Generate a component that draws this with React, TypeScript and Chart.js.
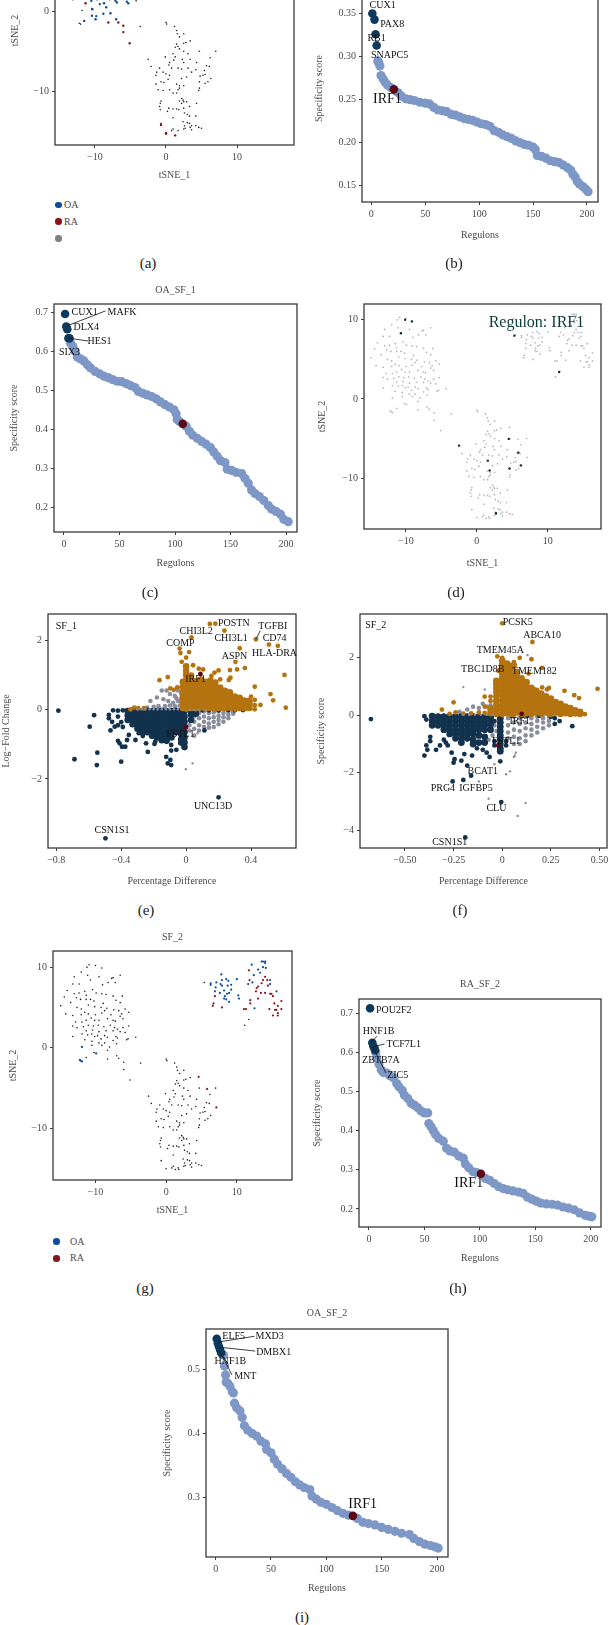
import React, { useEffect, useRef } from "react";
import { Chart, registerables } from "chart.js";

Chart.register(...registerables);

const SERIF = '"Liberation Serif", serif';
const BLUE = "#7d97c6";
const NAVY = "#0d3a5c";
const MAROON = "#5a0a16";
const GOLD = "#b5730f";
const DKNAVY = "#12324e";
const VGREY = "#8a8e9c";
const OA = "#0f4c9c";
const RA = "#8c1219";

// ---------- tSNE cells ----------
const tsneLeft: number[][] = [[-10.9,10.3],[-10,10.2],[-11.2,10],[-9.1,9.9],[-12,9.4],[-11.1,9],[-13,8.8],[-9.5,8.8],[-7.5,8.7],[-6.5,9],[-7.7,8.6],[-10.7,8.4],[-13.2,7.9],[-12.3,7.9],[-9,7.8],[-8.2,8.1],[-7.2,8.1],[-14,7.1],[-13,6.7],[-12.3,6.8],[-11.5,7],[-10.4,7.2],[-11.3,6.5],[-9.9,6.8],[-9.1,6.7],[-8.5,6.6],[-7.5,6.4],[-6.2,6.4],[-14.4,6.3],[-12.7,6.2],[-12.1,6],[-11.3,6],[-10.7,6],[-10.2,5.8],[-8.9,5.5],[-7.1,5.9],[-6.5,5.6],[-13.5,5.6],[-14.9,5.2],[-12.6,5],[-12,4.8],[-11,5.3],[-10.1,5.1],[-9.2,5],[-8.4,4.9],[-5.8,4.8],[-7.4,4.7],[-6.7,4.6],[-8.7,4.6],[-9.1,4.3],[-11.5,4.4],[-11,4.2],[-12,4.1],[-14.2,4.2],[-13.2,4],[-10,4.1],[-5.3,4.4],[-6.3,4.2],[-6.5,3.9],[-7.8,4.1],[-8.3,3.6],[-7.5,3.4],[-7.2,3.3],[-6.1,3.6],[-10.6,3.7],[-11.3,3.4],[-10.1,3.4],[-9.5,3.4],[-11.9,3.2],[-12.8,3.2],[-13.2,2.7],[-12.6,2.5],[-11.7,2.6],[-11,2.8],[-10.3,2.7],[-9.6,2.8],[-8.8,2.6],[-7.9,2.8],[-7.3,2.5],[-6.9,2.3],[-6.1,2.5],[-5.3,2.7],[-11.3,2.1],[-10.4,2.2],[-9.5,2],[-8.5,2.1],[-7.5,2.1],[-6.5,2],[-5.8,1.9],[-11.9,1.7],[-11.1,1.6],[-10.5,1.7],[-9.7,1.5],[-8.7,1.5],[-7.1,1.4],[-13.2,1.4],[-11.5,1],[-10.1,1.4],[-9.2,1.1],[-8.3,1.3],[-6.9,1.2],[-5.4,1.1],[-4.3,1.3],[-10.5,0.8],[-9.5,0.6],[-8.7,0.6],[-7.5,0.9],[-7,0.5],[-5.6,1],[-10.5,0.3],[-9.1,0.3],[-8,0.1],[-8.3,-0.3],[-10.2,-0.6],[-8.3,-1.4],[-7,-1],[-6.7,-1.3],[-6,-1.8],[-6,-2.7],[-5.1,-4],[-3.6,-1.9],[-11.3,-1.2]];
const tsneBottom: number[][] = [[0,-1.4],[0.1,-1.6],[1.2,-1.9],[1.5,-2.4],[1.6,-2.8],[1.9,-3.2],[2.5,-2.8],[2.8,-3.9],[3.4,-3.7],[1.5,-4.1],[1.3,-4.5],[1.7,-4.4],[1.9,-4.7],[2.5,-4],[2.5,-5],[-0.1,-5.7],[1,-5.3],[3.1,-5.3],[4.7,-5],[7,-5],[6.2,-5.8],[-2.5,-6],[0.5,-6.4],[0.4,-6.7],[1.1,-6.1],[1.3,-5.7],[2.3,-6],[3.4,-6],[2.5,-6.4],[4.3,-6.4],[5.7,-6.8],[6.1,-6.9],[-2.1,-6.9],[-0.9,-7.1],[-1.3,-7.6],[-0.4,-7.6],[0,-7.8],[-1.4,-8],[0.5,-8],[0.8,-7.1],[1.7,-7.1],[2.2,-7.2],[3.1,-7.1],[3.6,-7.6],[4.2,-7.3],[5.4,-7.4],[2.9,-8.2],[2.2,-8.4],[4.8,-8.1],[5.2,-8],[5.5,-7.9],[5.9,-8.8],[6.3,-8.4],[-0.7,-8.8],[-1.4,-9.1],[-0.3,-8.9],[0.3,-8.5],[1.5,-9.1],[2.5,-9.3],[1.9,-9.3],[4.7,-8.8],[4.7,-9.6],[5.5,-9],[-1.1,-9.8],[-0.4,-9.9],[0.5,-9.8],[1,-10.2],[1.5,-10.2],[1.9,-9.6],[1.7,-9.8],[4.6,-9.9],[2.2,-10.9],[1.9,-11.2],[2.4,-11.1],[2.2,-11.5],[2.5,-11.3],[2.9,-11.3],[3.3,-11.9],[4.3,-11.5],[-0.7,-11.2],[-0.8,-11.5],[-0.9,-11.9],[-0.8,-12.3],[0.4,-12.1],[0.2,-12.5],[1,-12.2],[1.5,-12.2],[1.8,-12.3],[2.5,-12.1],[2.6,-12.7],[3,-12.9],[3.3,-13.1],[4.2,-13.1],[-0.7,-14],[1,-13.3],[2.4,-13.8],[3,-13.9],[3.3,-14],[2.6,-14.3],[3.6,-14.3],[4.2,-14.3],[4.6,-14.5],[5,-14.6],[0,-15],[0.8,-14.9],[1,-14.7],[1.3,-15.1],[1.7,-14.9],[1.8,-15.1],[2.5,-14.7],[2.7,-14.6],[3.4,-14.5],[3.6,-14.8]];
const tsneRightOA: number[][] = [[6.3,8],[6.3,7.8],[7.1,8.1],[7.8,9.1],[7.9,8.4],[8.5,8.5],[8.8,8.3],[7.7,7.9],[7.9,7.7],[8.7,7.7],[9.2,7.8],[10,8.5],[7,7.5],[6.9,7],[7.6,6.8],[8.2,7.1],[9.2,7.2],[8.6,6.7],[8.9,6.8],[8.3,6.4],[8.2,6.1],[8.5,6],[8.9,5.7],[10.2,6.5],[10.3,6.1],[13.5,10.7],[13.7,10.7],[14,10.7],[14,10.5],[12.1,10.3],[13.7,10],[14.1,9.9],[13,9.7],[12.4,9],[11.6,7.9],[12.2,8.1],[13.3,9.3],[14.7,7.9],[15.6,7],[12.5,4.9],[14.7,8.4]];
const tsneRightRA: number[][] = [[6.9,6.4],[6.7,5.5],[6.6,5.2],[7.9,5],[11.7,9.6],[14,8.8],[13.7,8.4],[14.3,8.4],[11.8,8.4],[13.5,8],[13,7.6],[12.8,7.4],[14.4,7.7],[12.7,7],[13.4,6.8],[14,6.8],[14.7,6.7],[14.9,6.7],[15.1,6.4],[13,6.1],[11.9,5.9],[11.9,5.5],[11,4.8],[11.3,4.8],[16.3,5.8],[15.3,5.5],[15.8,5.2],[16.3,4.8],[15.4,4.7],[15.6,4.7],[14.6,4.8],[15.1,4],[15.8,4],[15.8,4.3]];
const tsneRightOther: number[][] = [[5.4,8.1],[11.7,3.5],[11.1,2.8]];
const gLeftOA: number[][] = [[-11.9,0.1],[-12.2,-1.5],[-11.9,-1.7],[-12.1,-1.6],[-9.9,-0.7]];
const gBottomRA: number[][] = [[4.6,-3.6],[5.8,-5.1],[7.1,-7.4]];
const aOA: number[][] = [[-13.1,1.5],[-10.5,1.3],[-9.7,1.5],[-8.7,1],[-9.3,0.9],[-7.9,1.5],[-7.1,1.3],[-6.9,1.1],[-5.5,1.2],[-5.3,1],[-10.4,0.3],[-10.35,0.25],[-8.4,0.5],[-8.8,-0.3],[-7.8,-0.25],[-10.4,-0.55],[-9.9,-1],[-9.8,-0.6],[-11.5,-1.2],[-7,-1]];
const aRA: number[][] = [[-11.3,1],[-8.1,-1.4],[-6.7,-1.4],[-6,-1.8],[-6,-2.6],[-5.1,-4],[-0.7,-14.2],[0,-15.2],[0.02,-15.3],[1.3,-15.5]];
const aOther: number[][] = [[-4.2,1.3],[-11.8,0.1],[-12.2,-1.5],[-12,-1.6],[-3.6,-1.9]];
const dHighlighted: number[][] = [[-10.1,10],[-9.15,9.8],[-10.7,8.3],[5.3,8],[11.6,3.4],[-2.5,-5.9],[4.5,-5.05],[5.85,-6.8],[1.55,-7.8],[1.8,-9.05],[4.6,-8.8],[6.2,-8.4],[2.7,-14.45]];

const tsneXTicks = [-10, 0, 10];
const tsneXLabels = ["−10", "0", "10"];
const tsneYTicks = [-10, 0, 10];
const tsneYLabels = ["−10", "0", "10"];

// ---------- regulon specificity ----------
const bTopRanks = [1, 3, 4, 5];
const bTopScores = [0.35, 0.343, 0.326, 0.313];
const bRanks = [6,7,8,9,11,13,15,18,25,28,32,36,40,45,50,54,58,62,66,70,74,78,82,86,90,94,98,102,106,110,114,118,122,126,130,134,138,142,146,150,152,154,158,162,166,170,174,178,182,185,187,189,191,193,196,199,201];
const bScores = [0.295,0.293,0.289,0.278,0.274,0.27,0.267,0.264,0.258,0.254,0.251,0.25,0.249,0.247,0.246,0.245,0.241,0.238,0.237,0.236,0.233,0.232,0.23,0.228,0.227,0.226,0.224,0.222,0.221,0.219,0.214,0.212,0.209,0.207,0.205,0.202,0.2,0.198,0.197,0.195,0.192,0.185,0.184,0.182,0.179,0.178,0.177,0.174,0.171,0.168,0.163,0.16,0.155,0.152,0.149,0.146,0.143];
const bIrf = [21, 0.262];

const cTopRanks = [1, 2, 3, 4, 5];
const cTopScores = [0.695, 0.663, 0.656, 0.633, 0.633];
const cRanks = [6,8,10,12,15,18,21,24,28,32,36,40,44,48,52,56,60,64,67,71,75,79,83,87,91,95,99,101,102,104,110,113,116,120,124,128,132,135,138,141,145,147,151,155,160,163,166,169,172,176,180,184,187,191,195,198,202];
const cScores = [0.62,0.612,0.6,0.585,0.58,0.575,0.565,0.557,0.548,0.542,0.536,0.532,0.527,0.523,0.522,0.517,0.512,0.507,0.497,0.492,0.488,0.484,0.478,0.47,0.463,0.457,0.45,0.44,0.425,0.42,0.408,0.395,0.385,0.377,0.369,0.362,0.353,0.342,0.331,0.32,0.315,0.298,0.295,0.29,0.287,0.275,0.262,0.245,0.236,0.228,0.218,0.205,0.196,0.19,0.183,0.17,0.164];
const cIrf = [107, 0.414];

const hTopRanks = [1, 3, 4, 5, 5.5];
const hTopScores = [0.712, 0.624, 0.615, 0.61, 0.605];
const hRanks = [6,7,9,11,13,16,19,22,25,27,30,32,35,38,41,44,47,50,53,54,56,58,60,63,67,70,73,77,81,85,87,90,94,97,105,109,113,117,121,125,130,135,139,143,147,151,155,160,165,170,175,180,185,190,195,198,201];
const hScores = [0.6,0.585,0.57,0.555,0.548,0.547,0.54,0.535,0.52,0.512,0.503,0.49,0.482,0.47,0.465,0.458,0.45,0.445,0.445,0.418,0.41,0.4,0.39,0.38,0.373,0.355,0.348,0.345,0.335,0.33,0.315,0.305,0.295,0.293,0.278,0.273,0.265,0.257,0.252,0.249,0.246,0.243,0.24,0.23,0.225,0.22,0.215,0.213,0.212,0.21,0.205,0.202,0.198,0.19,0.184,0.182,0.18];
const hIrf = [101, 0.29];

const iTopRanks = [1, 2, 3, 4, 5];
const iTopScores = [0.547, 0.54, 0.535, 0.53, 0.525];
const iRanks = [7,8,9,9.5,11,13,15,16,17,19,22,24,26,29,33,37,41,45,46,50,53,56,60,64,68,72,76,80,85,87,91,95,100,105,110,115,120,128,133,138,144,150,156,162,168,175,179,184,189,194,198,201];
const iScores = [0.522,0.505,0.491,0.48,0.478,0.473,0.465,0.463,0.447,0.44,0.435,0.425,0.412,0.405,0.4,0.396,0.388,0.384,0.375,0.37,0.36,0.352,0.345,0.338,0.332,0.325,0.32,0.316,0.313,0.303,0.298,0.293,0.29,0.285,0.28,0.276,0.273,0.268,0.262,0.26,0.258,0.254,0.251,0.248,0.245,0.243,0.237,0.232,0.228,0.226,0.224,0.222];
const iIrf = [124, 0.272];

const regXTicks = [0, 50, 100, 150, 200];
const regXLabels = ["0", "50", "100", "150", "200"];

// ---------- volcano panels: [percentage difference, [log-fold values...]] ----------
const eGoldColumns: [number, number[]][] = [[-0.02,[0.05,0.2,0.35,0.5,0.65,0.8]],[0,[0.03,0.17,0.3,0.45,0.58,0.72,0.85,1,1.12,1.25]],[0.03,[0.05,0.18,0.32,0.46,0.6,0.74,0.88,0.98]],[0.06,[0.04,0.16,0.3,0.44,0.57,0.7,0.82]],[0.09,[0.06,0.2,0.33,0.47,0.6,0.74,0.87]],[0.12,[0.03,0.17,0.31,0.44,0.58,0.7,0.8]],[0.15,[0.05,0.19,0.33,0.46,0.6,0.72,0.84]],[0.18,[0.03,0.16,0.3,0.43,0.56,0.66,0.78]],[0.21,[0.05,0.18,0.31,0.44,0.56,0.64]],[0.24,[0.04,0.17,0.3,0.42,0.54]],[0.27,[0.06,0.18,0.3,0.4,0.5]],[0.3,[0.03,0.15,0.27,0.38]],[0.33,[0.05,0.16,0.27,0.34]],[0.36,[0.04,0.14,0.26]],[0.39,[0.05,0.16,0.24]]];
const eGoldOutliers: number[][] = [[0.146,2.47],[0.18,2.48],[0.236,2.28],[0.43,2.03],[0.51,1.875],[0.565,1.84],[0.033,2.08],[0.33,1.77],[-0.04,1.76],[0.018,1.66],[-0.035,1.63],[0,1.5],[-0.027,1.38],[0.304,1.38],[0.043,1.28],[0.362,1.2],[0.314,1.16],[0.27,1.14],[0.2,1.13],[0.175,1.07],[0.078,1.18],[0.105,1.16],[0.156,0.97],[0.21,0.875],[0.273,0.92],[0.263,0.855],[0.606,1],[0.423,0.66],[0.52,0.45],[0.536,0.27],[0.614,0.058],[0.458,0.135],[0.423,0.28],[0.423,0.13],[0.423,0.01],[0.4,0.375],[0.386,0.28],[-0.164,0.85],[-0.113,0.94],[-0.097,0.615],[-0.076,0.57],[-0.32,0.06],[-0.26,0.04],[-0.343,0.01],[-0.296,0.04],[-0.055,0.64]];
const eNavyColumns: [number, number[]][] = [[-0.36,[-0.04,-0.17,-0.3]],[-0.33,[-0.03,-0.15,-0.28,-0.42]],[-0.3,[-0.05,-0.18,-0.31,-0.44,-0.55]],[-0.27,[-0.04,-0.16,-0.29,-0.42,-0.55,-0.66]],[-0.24,[-0.03,-0.15,-0.28,-0.4,-0.53,-0.65]],[-0.21,[-0.05,-0.18,-0.3,-0.43,-0.55,-0.68,-0.75]],[-0.18,[-0.04,-0.16,-0.29,-0.42,-0.54,-0.67,-0.8]],[-0.15,[-0.03,-0.15,-0.28,-0.4,-0.53,-0.66,-0.78,-0.88]],[-0.12,[-0.05,-0.18,-0.3,-0.43,-0.56,-0.68,-0.8,-0.9]],[-0.09,[-0.04,-0.16,-0.29,-0.41,-0.54,-0.67,-0.8]],[-0.06,[-0.03,-0.15,-0.28,-0.4,-0.52,-0.65]],[-0.03,[-0.04,-0.16,-0.28,-0.4,-0.52,-0.7,-0.85,-0.95]],[-0.01,[-0.05,-0.2,-0.35,-0.5,-0.65,-0.8,-0.95,-1.08]],[0.03,[-0.03,-0.15,-0.3]],[0.06,[-0.03,-0.12]]];
const eNavyOutliers: number[][] = [[0.1,-0.02],[0.14,-0.02],[0.2,-0.02],[0.26,-0.01],[0.3,-0.02],[0.35,-0.01],[-0.39,-0.02],[-0.42,-0.03],[-0.42,-0.2],[-0.45,-0.02],[-0.787,-0.03],[-0.688,-1.43],[-0.547,-1.24],[-0.55,-1.6],[-0.594,-0.49],[-0.567,-0.16],[-0.4,-1.5],[-0.497,-3.71],[0.2,-2.53],[-0.236,-1.22],[-0.123,-1.36],[-0.092,-1.18],[-0.06,-1.16],[-0.113,-1.55],[-0.097,-1.45],[-0.092,-1.6],[0.113,-0.6],[-0.42,-0.9],[-0.41,-0.97],[-0.395,-1.07],[-0.375,-1.07],[-0.353,-0.73],[-0.466,-0.6],[-0.44,-0.49],[-0.476,-0.15],[-0.476,-0.25],[-0.456,-0.35],[-0.312,-0.875],[-0.364,-0.875],[-0.292,-0.68],[-0.267,-0.76],[-0.247,-0.97],[-0.19,-0.92],[-0.195,-0.99],[-0.092,-1.02],[-0.02,-1],[-0.24,-0.57],[-0.42,-0.45],[-0.39,-0.5],[-0.4,-0.36]];
const eGreyWedge: number[][] = [[-0.22,0.25],[-0.18,0.35],[-0.15,0.55],[-0.12,0.55],[-0.1,0.45],[-0.07,0.4],[-0.05,0.55],[-0.03,0.65],[-0.14,0.3],[-0.11,0.25],[-0.08,0.2],[-0.05,0.25],[-0.03,0.3],[-0.04,0.12],[-0.07,0.1],[-0.1,0.12],[-0.13,0.1],[-0.17,0.1],[-0.2,0.08],[-0.24,0.06],[-0.03,0.45],[-0.06,0.33],[0.02,-0.45],[0.02,-0.6],[0.05,-0.05],[0.05,-0.2],[0.05,-0.35],[0.05,-0.55],[0.05,-0.75],[0.08,-0.1],[0.08,-0.25],[0.08,-0.45],[0.08,-0.6],[0.11,-0.05],[0.11,-0.2],[0.11,-0.35],[0.11,-0.5],[0.14,-0.1],[0.14,-0.25],[0.14,-0.4],[0.14,-0.52],[0.17,-0.08],[0.17,-0.22],[0.17,-0.35],[0.17,-0.5],[0.2,-0.05],[0.2,-0.18],[0.2,-0.3],[0.2,-0.42],[0.23,-0.1],[0.23,-0.22],[0.23,-0.35],[0.26,-0.06],[0.26,-0.15],[0.26,-0.25],[0.29,-0.05],[0.29,-0.12]];
const eGreySmall: number[][] = [[-0.002,-1.72],[0.04,-1.55],[0.07,-0.68],[-0.3,0.01],[-0.275,0.01],[-0.25,0.01],[-0.225,0.01],[-0.2,0.01],[-0.175,0.01],[-0.15,0.01],[-0.125,0.01],[-0.1,0.01],[-0.075,0.01],[-0.05,0.01],[0.02,-0.01],[0.05,-0.01],[0.08,-0.01],[0.12,-0.01]];
const eIrfX = [0.088, 0];
const eIrfY = [1.03, -0.5];

const fGoldColumns: [number, number[]][] = [[-0.03,[0.05,0.2,0.35,0.5,0.65,0.8,0.95,1.1,1.2]],[0,[0.05,0.2,0.35,0.52,0.7,0.85,1,1.15,1.3,1.45,1.6,1.75,1.9]],[0.025,[0.08,0.25,0.4,0.58,0.75,0.9,1.05,1.2,1.35,1.5,1.65,1.8]],[0.05,[0.04,0.2,0.36,0.52,0.68,0.85,1,1.15,1.3,1.45,1.6,1.72]],[0.075,[0.1,0.26,0.42,0.58,0.74,0.9,1.05,1.2,1.35,1.5]],[0.1,[0.05,0.2,0.36,0.52,0.68,0.82,0.98,1.12,1.28]],[0.125,[0.08,0.24,0.4,0.56,0.72,0.88,1,1.15]],[0.15,[0.05,0.2,0.35,0.5,0.65,0.8,0.95]],[0.175,[0.1,0.25,0.4,0.55,0.7,0.85]],[0.2,[0.06,0.2,0.35,0.5,0.62,0.75]],[0.225,[0.1,0.25,0.4,0.52,0.66]],[0.25,[0.05,0.18,0.32,0.45,0.58]],[0.275,[0.1,0.22,0.35,0.46]],[0.3,[0.05,0.17,0.28,0.4]],[0.325,[0.08,0.2,0.3]],[0.35,[0.05,0.15,0.25]],[0.375,[0.07,0.17]],[0.4,[0.05,0.12]],[-0.06,[0.08,0.22]]];
const fGoldOutliers: number[][] = [[0.425,0.04],[-0.06,0.5],[-0.06,0.65],[-0.09,0.08],[-0.09,0.3],[-0.09,0.65],[-0.12,0.1],[-0.16,0.07],[-0.2,0.06],[-0.24,0.1],[-0.27,0.05],[0,3.2],[0.155,2.55],[-0.025,2.05],[0,2],[0.09,2],[0.15,1.95],[0.205,1.65],[0.06,1.85],[0.065,1.75],[0.135,1.45],[0.035,1.55],[-0.02,1.55],[0.32,0.85],[0.49,0.92],[0.37,0.7],[0.395,0.6],[0.24,0.95],[0.205,0.97],[0.165,0.9],[-0.25,0.45],[-0.31,0.2],[0.23,0.9]];
const fNavyColumns: [number, number[]][] = [[-0.36,[-0.03,-0.2,-0.35]],[-0.33,[-0.05,-0.2,-0.35]],[-0.3,[-0.05,-0.2,-0.35,-0.5]],[-0.27,[-0.05,-0.2,-0.35,-0.5,-0.65]],[-0.24,[-0.05,-0.2,-0.35,-0.5,-0.65,-0.8]],[-0.21,[-0.05,-0.2,-0.35,-0.5,-0.65,-0.8,-0.95]],[-0.18,[-0.05,-0.2,-0.35,-0.5,-0.65,-0.8]],[-0.15,[-0.05,-0.2,-0.35,-0.5,-0.65,-0.85,-1]],[-0.12,[-0.05,-0.2,-0.35,-0.5,-0.7,-0.95]],[-0.09,[-0.05,-0.2,-0.35,-0.5,-0.75,-0.95]],[-0.06,[-0.05,-0.15,-0.3,-0.5]],[-0.01,[-0.1,-0.25,-0.4,-0.55,-0.7,-0.85,-1,-1.15,-1.25]]];
const fNavyOutliers: number[][] = [[-0.4,-0.03],[-0.39,-0.15],[-0.04,-0.2],[-0.04,-0.9],[-0.04,-1.05],[0.02,-0.9],[0.02,-1.05],[0.05,-0.02],[0.1,-0.03],[0.13,-0.02],[0.19,-0.02],[0.25,-0.05],[0.27,-0.1],[-0.675,-0.13],[-0.19,-4.25],[-0.005,-3.02],[-0.2,-2.25],[-0.255,-2.3],[-0.16,-2.1],[-0.18,-1.75],[-0.25,-1.65],[-0.21,-1.58],[-0.01,-1.6],[-0.245,-1.53],[-0.26,-1.3],[-0.195,-1.35],[-0.155,-1.4],[-0.065,-1.45],[-0.4,-1.4],[-0.39,-1.05],[-0.385,-1.2],[-0.37,-0.9],[-0.37,-0.75],[-0.34,-1.2],[-0.32,-1.05],[0.36,-0.38],[0.295,-0.2],[0.27,-0.3],[-0.3,-0.85],[-0.29,-0.95],[-0.28,-1.05],[-0.1,-1.2],[-0.13,-1.15],[-0.08,-1.3]];
const fGreyWedge: number[][] = [[0.03,-0.1],[0.03,-0.35],[0.03,-0.6],[0.03,-0.8],[0.06,-0.05],[0.06,-0.25],[0.06,-0.5],[0.06,-0.75],[0.06,-1],[0.09,-0.1],[0.09,-0.3],[0.09,-0.55],[0.09,-0.8],[0.09,-1],[0.12,-0.05],[0.12,-0.25],[0.12,-0.45],[0.12,-0.7],[0.12,-0.9],[0.15,-0.1],[0.15,-0.3],[0.15,-0.5],[0.15,-0.7],[0.18,-0.05],[0.18,-0.2],[0.18,-0.4],[0.18,-0.6],[0.21,-0.1],[0.21,-0.25],[0.21,-0.45],[0.24,-0.05],[0.24,-0.2],[0.24,-0.35],[-0.04,-0.35],[-0.03,-0.55],[-0.05,-0.7],[-0.07,-0.85],[-0.15,0.3],[-0.12,0.25],[-0.1,0.4],[-0.08,0.3],[-0.06,0.35],[-0.05,0.2],[-0.03,0.15],[-0.18,0.2],[-0.22,0.12]];
const fGreySmall: number[][] = [[-0.2,0.98],[-0.09,0.9],[-0.07,-2.9],[0.12,-3.05],[0.08,-3.5],[0.13,2.1],[-0.12,-2.3],[0.02,-2.05],[0.04,-1.95],[-0.04,-1.7],[0.065,-1.4],[0.07,-1.3],[0.06,-1.45],[-0.2,0.02],[-0.17,0.02],[-0.14,0.02],[-0.11,0.02],[-0.08,0.02],[-0.05,0.02]];
const fIrfX = [0.1, -0.02];
const fIrfY = [0.05, -1.05];

const cols = (c: [number, number[]][]) => c.flatMap(([x, ys]) => ys.map((y) => ({ x, y })));
const pts = (a: number[][]) => a.map(([x, y]) => ({ x, y }));
const ranked = (r: number[], s: number[]) => r.map((x, i) => ({ x, y: s[i] }));
const dot = (data: any[], color: string, r: number) => ({ data, backgroundColor: color, borderWidth: 0, pointRadius: r, pointHoverRadius: r, showLine: false });

const specSets = (tr: number[], ts: number[], r: number[], s: number[], irf: number[]) => [
  dot([{ x: irf[0], y: irf[1] }], MAROON, 4.3),
  dot(ranked(tr, ts), NAVY, 4.3),
  dot(ranked(r, s), BLUE, 4.6),
];

const volcSets = (gc: any, go: number[][], nc: any, no: number[][], wedge: number[][], small: number[][], ix: number[], iy: number[], massR: number) => [
  dot(ranked(ix, iy), MAROON, 2.4),
  dot(pts(small), VGREY, 1.2),
  dot(pts(go), GOLD, 2.4),
  dot(cols(gc), GOLD, massR),
  dot(pts(no), DKNAVY, 2.4),
  dot(cols(nc), DKNAVY, massR),
  dot(pts(wedge), VGREY, 2.3),
];

const panels: any[] = [
  { id: "a", box: [55.3, -83.7, 294, 145], xr: [-15.6, 18], yr: [-16.7, 11.9], xt: tsneXTicks, xl: tsneXLabels, yt: tsneYTicks, yl: tsneYLabels, xTitle: "tSNE_1", yTitle: "tSNE_2", xd: 30.7, yd: 39.6,
    sets: [dot(pts(aRA), RA, 1.2), dot(pts(aOA), OA, 1.2), dot(pts([...tsneBottom.filter(p => p[1] > -15), ...aOther]), "#222", 0.8)] },
  { id: "b", box: [361.7, -25.4, 598.3, 202.3], xr: [-8.6, 210.2], yr: [0.1311, 0.3948], xt: regXTicks, xl: regXLabels, yt: [0.15, 0.2, 0.25, 0.3, 0.35], yl: ["0.15", "0.20", "0.25", "0.30", "0.35"], xTitle: "Regulons", yTitle: "Specificity score", xd: 33, yd: 42.7,
    sets: specSets(bTopRanks, bTopScores, bRanks, bScores, bIrf),
    labels: [["CUX1", 10.5, 0.359], ["PAX8", 19.4, 0.338], ["RB1", 4.9, 0.321], ["SNAPC5", 17, 0.302], ["IRF1", 15, 0.25, 14]] },
  { id: "c", box: [54.3, 304, 297.3, 531.7], title: "OA_SF_1", dt: 14, xr: [-9, 209.9], yr: [0.1375, 0.7205], xt: regXTicks, xl: regXLabels, yt: [0.2, 0.3, 0.4, 0.5, 0.6, 0.7], yl: ["0.2", "0.3", "0.4", "0.5", "0.6", "0.7"], xTitle: "Regulons", yTitle: "Specificity score", xd: 31.6, yd: 40,
    sets: specSets(cTopRanks, cTopScores, cRanks, cScores, cIrf),
    labels: [["CUX1", 18.6, 0.7], ["MAFK", 52.3, 0.7], ["DLX4", 20, 0.66], ["HES1", 32, 0.624], ["SIX3", 5, 0.596]],
    leaders: [[37.5, 0.703, 3, 0.665], [21.6, 0.626, 4.5, 0.633]] },
  { id: "d", box: [364, 304, 600.7, 529.3], xr: [-15.9, 17.5], yr: [-16.44, 12], xt: tsneXTicks, xl: tsneXLabels, yt: tsneYTicks, yl: tsneYLabels, xTitle: "tSNE_1", yTitle: "tSNE_2", xd: 34, yd: 41.7,
    sets: [dot(pts(dHighlighted), "#0b3038", 1.2), dot(pts([...tsneLeft, ...gLeftOA, ...tsneBottom, ...gBottomRA, ...tsneRightOA, ...tsneRightRA, ...tsneRightOther]), "#b4b4b4", 0.85)],
    labels: [["Regulon: IRF1", 8.4, 9.63, 16, "#0f3b3c"]] },
  { id: "e", box: [47.7, 614, 295.7, 848], xr: [-0.851, 0.677], yr: [-3.99, 2.758], xt: [-0.8, -0.4, 0, 0.4], xl: ["−0.8", "−0.4", "0", "0.4"], yt: [-2, 0, 2], yl: ["−2", "0", "2"], xTitle: "Percentage Difference", yTitle: "Log−Fold Change", xd: 33.7, yd: 41.7,
    sets: volcSets(eGoldColumns, eGoldOutliers, eNavyColumns, eNavyOutliers, eGreyWedge, eGreySmall, eIrfX, eIrfY, 3.3),
    labels: [["POSTN", 0.294, 2.48], ["TGFBI", 0.534, 2.39], ["CD74", 0.545, 2.05], ["CHI3L2", 0.062, 2.25], ["CHI3L1", 0.277, 2.05], ["COMP", -0.035, 1.9], ["ASPN", 0.298, 1.55], ["HLA-DRA", 0.545, 1.62], ["IRF1", 0.058, 0.875], ["FSTL1", -0.035, -0.71], ["UNC13D", 0.166, -2.8], ["CSN1S1", -0.456, -3.49], ["SF_1", -0.738, 2.41]],
    leaders: [[0.43, 2.03, 0.457, 2.28]] },
  { id: "f", box: [360, 614, 607.3, 848], xr: [-0.731, 0.5385], yr: [-4.617, 3.524], xt: [-0.5, -0.25, 0, 0.25, 0.5], xl: ["−0.50", "−0.25", "0", "0.25", "0.50"], yt: [-4, -2, 0, 2], yl: ["−4", "−2", "0", "2"], xTitle: "Percentage Difference", yTitle: "Specificity score", xd: 33.7, yd: 38.7,
    sets: volcSets(fGoldColumns, fGoldOutliers, fNavyColumns, fNavyOutliers, fGreyWedge, fGreySmall, fIrfX, fIrfY, 3.4),
    labels: [["PCSK5", 0.08, 3.22], ["ABCA10", 0.205, 2.77], ["TMEM45A", -0.01, 2.25], ["TBC1D8B", -0.1, 1.6], ["TMEM182", 0.165, 1.53], ["IRF1", 0.09, -0.22], ["FSTL1", 0.02, -0.9], ["BCAT1", -0.1, -1.95], ["PRG4", -0.305, -2.55], ["IGFBP5", -0.135, -2.55], ["CLU", -0.03, -3.25], ["CSN1S1", -0.27, -4.42], ["SF_2", -0.65, 3.12]] },
  { id: "g", box: [53.3, 950.7, 292, 1180], title: "SF_2", dt: 13.7, xr: [-16, 17.8], yr: [-16.4, 12], xt: tsneXTicks, xl: tsneXLabels, yt: tsneYTicks, yl: tsneYLabels, xTitle: "tSNE_1", yTitle: "tSNE_2", xd: 30.7, yd: 40,
    sets: [dot(pts([...tsneRightRA, ...gBottomRA]), RA, 1.1), dot(pts([...tsneRightOA, ...gLeftOA]), OA, 1.1), dot(pts([...tsneLeft, ...tsneBottom, ...tsneRightOther]), "#222", 0.8)] },
  { id: "h", box: [359.3, 999, 601.3, 1226.7], title: "RA_SF_2", dt: 15, xr: [-9, 209.3], yr: [0.154, 0.7358], xt: regXTicks, xl: regXLabels, yt: [0.2, 0.3, 0.4, 0.5, 0.6, 0.7], yl: ["0.2", "0.3", "0.4", "0.5", "0.6", "0.7"], xTitle: "Regulons", yTitle: "Specificity score", xd: 31.6, yd: 42,
    sets: specSets(hTopRanks, hTopScores, hRanks, hScores, hIrf),
    labels: [["POU2F2", 22.3, 0.708], ["HNF1B", 8.7, 0.652], ["TCF7L1", 31.3, 0.619], ["ZBTB7A", 10.8, 0.578], ["ZIC5", 25.9, 0.54], ["IRF1", 90, 0.266, 14]],
    leaders: [[7.2, 0.641, 2.7, 0.627], [14, 0.621, 4.2, 0.614], [15.3, 0.547, 3.3, 0.614]] },
  { id: "i", box: [205.7, 1329.3, 447.7, 1556.7], title: "OA_SF_2", dt: 15.6, xr: [-8.7, 209.9], yr: [0.2081, 0.5623], xt: regXTicks, xl: regXLabels, yt: [0.3, 0.4, 0.5], yl: ["0.3", "0.4", "0.5"], xTitle: "Regulons", yTitle: "Specificity score", xd: 31.6, yd: 38.4,
    sets: specSets(iTopRanks, iTopScores, iRanks, iScores, iIrf),
    labels: [["ELF5", 16.3, 0.551], ["MXD3", 48.8, 0.551], ["DMBX1", 52.4, 0.5265], ["HNF1B", 13.3, 0.512], ["MNT", 26.8, 0.4886], ["IRF1", 132.8, 0.2896, 14]],
    leaders: [[35.2, 0.551, 1.8, 0.542], [35.8, 0.528, 3.6, 0.534], [14.8, 0.491, 3.6, 0.5285]] },
];

const panelLetters: [string, number, number][] = [["(a)", 148, 263], ["(b)", 454, 263], ["(c)", 150, 592], ["(d)", 456, 592], ["(e)", 146, 910], ["(f)", 460, 910], ["(g)", 145, 1288], ["(h)", 458, 1288], ["(i)", 302, 1617]];
const legends: [string, string, number, number, number][] = [["OA", OA, 58.3, 205, 64], ["RA", RA, 58.3, 221.7, 64], ["", "#808080", 58.3, 238.3, 64], ["OA", OA, 56.7, 1241.7, 70], ["RA", RA, 56.7, 1258.3, 70]];

const W = 60, H = 45, TOP = 30, RIGHT = 20;

const annotate = {
  id: "annotate",
  afterDatasetsDraw(chart: any, _a: any, opts: any) {
    const { ctx, chartArea: ca, scales } = chart;
    ctx.save();
    ctx.strokeStyle = "#3a3a3a";
    ctx.lineWidth = 1.3;
    ctx.strokeRect(ca.left, ca.top, ca.right - ca.left, ca.bottom - ca.top);
    ctx.strokeStyle = "#111";
    ctx.lineWidth = 0.8;
    (opts.leaders || []).forEach((l: number[]) => {
      ctx.beginPath();
      ctx.moveTo(scales.x.getPixelForValue(l[0]), scales.y.getPixelForValue(l[1]));
      ctx.lineTo(scales.x.getPixelForValue(l[2]), scales.y.getPixelForValue(l[3]));
      ctx.stroke();
    });
    ctx.textAlign = "center";
    ctx.textBaseline = "middle";
    (opts.labels || []).forEach((t: any[]) => {
      ctx.font = `${t[3] || 10}px ${SERIF}`;
      ctx.fillStyle = t[4] || "#111";
      ctx.fillText(t[0], scales.x.getPixelForValue(t[1]), scales.y.getPixelForValue(t[2]));
    });
    ctx.restore();
  },
};

function Panel({ p }: { p: any }) {
  const ref = useRef<HTMLCanvasElement>(null);
  const L = Math.round(p.box[0]), T = Math.round(p.box[1]), R = Math.round(p.box[2]), B = Math.round(p.box[3]);
  useEffect(() => {
    const tick = (vals: number[], labels: string[]) => ({
      autoSkip: false, maxRotation: 0, minRotation: 0, padding: 3, color: "#4a4a4a",
      font: { family: SERIF, size: 10 },
      callback: (v: number) => labels[vals.indexOf(v)] ?? "",
    });
    const grid = { drawOnChartArea: false, drawTicks: true, tickLength: 3, color: "#3a3a3a", lineWidth: 1 };
    const chart = new Chart(ref.current as HTMLCanvasElement, {
      type: "scatter",
      data: { datasets: p.sets },
      plugins: [annotate],
      options: {
        animation: false, responsive: false, maintainAspectRatio: false,
        layout: { padding: { top: p.title ? 0 : TOP, right: RIGHT, left: 0, bottom: 0 } },
        plugins: {
          legend: { display: false }, tooltip: { enabled: false },
          title: p.title
            ? { display: true, text: p.title, fullSize: false, color: "#4a4a4a", font: { family: SERIF, size: 10, weight: "normal", lineHeight: 1.2 }, padding: { top: TOP - p.dt - 6, bottom: p.dt - 6 } }
            : { display: false },
          annotate: { labels: p.labels, leaders: p.leaders },
        } as any,
        scales: {
          x: {
            type: "linear", min: p.xr[0], max: p.xr[1], ticks: tick(p.xt, p.xl), grid, border: { display: false },
            afterBuildTicks: (s: any) => { s.ticks = p.xt.map((value: number) => ({ value })); },
            afterFit: (s: any) => { s.height = H; },
            title: { display: true, text: p.xTitle, color: "#4a4a4a", font: { family: SERIF, size: 10, lineHeight: 1.2 }, padding: { top: 0, bottom: H - 6 - p.xd } },
          },
          y: {
            type: "linear", min: p.yr[0], max: p.yr[1], ticks: tick(p.yt, p.yl), grid, border: { display: false },
            afterBuildTicks: (s: any) => { s.ticks = p.yt.map((value: number) => ({ value })); },
            afterFit: (s: any) => { s.width = W; },
            title: { display: true, text: p.yTitle, color: "#4a4a4a", font: { family: SERIF, size: 10, lineHeight: 1.2 }, padding: { top: W - 6 - p.yd, bottom: 0 } },
          },
        },
      } as any,
    });
    return () => chart.destroy();
  }, []);
  return (
    <canvas
      ref={ref}
      width={R - L + W + RIGHT}
      height={B - T + TOP + H}
      style={{ position: "absolute", left: L - W, top: T - TOP, display: "block" }}
    />
  );
}

export default function App() {
  return (
    <div style={{ position: "absolute", left: 0, top: 0, width: 608, height: 1625, overflow: "hidden", background: "#fff", fontFamily: SERIF }}>
      {panels.map((p) => <Panel key={p.id} p={p} />)}
      {panelLetters.map(([t, x, y]) => (
        <div key={t} style={{ position: "absolute", left: x - 20, top: y - 10, width: 40, height: 20, lineHeight: "20px", textAlign: "center", fontSize: 15, color: "#222" }}>{t}</div>
      ))}
      {legends.map(([t, c, dx, y, tx], i) => (
        <React.Fragment key={i}>
          <div style={{ position: "absolute", left: dx - 3.3, top: y - 3.3, width: 6.6, height: 6.6, borderRadius: "50%", background: c }} />
          {t && <div style={{ position: "absolute", left: tx, top: y - 7, height: 14, lineHeight: "14px", fontSize: 10, color: "#4a4a4a" }}>{t}</div>}
        </React.Fragment>
      ))}
    </div>
  );
}
